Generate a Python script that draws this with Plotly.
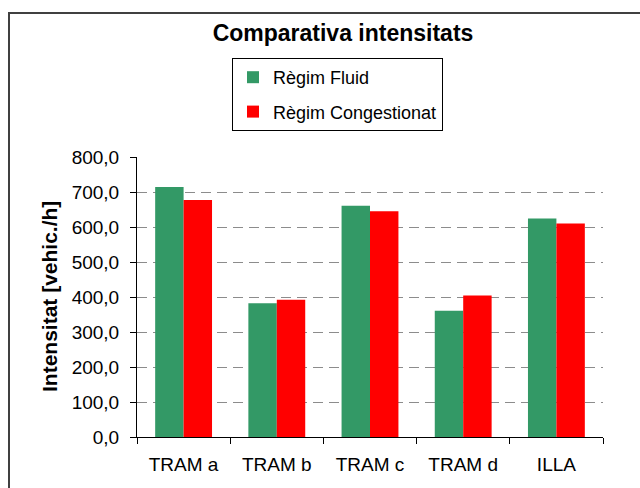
import plotly.graph_objects as go

# Traffic intensity per road section, fluid vs congested regime
trams = ["TRAM a", "TRAM b", "TRAM c", "TRAM d", "ILLA"]
regim_fluid = [714, 382, 661, 361, 624]
regim_congestionat = [677, 392, 645, 404, 610]
y_ticks = [0, 100, 200, 300, 400, 500, 600, 700, 800]

FONT = "Arial, Liberation Sans, sans-serif"
GREEN = "#339966"
RED = "#FF0000"

fig = go.Figure()
fig.add_trace(go.Bar(
    x=trams, y=regim_fluid, name="Règim Fluid",
    marker=dict(color=GREEN, line=dict(width=0)),
    legendgroup="fluid",
))
fig.add_trace(go.Bar(
    x=trams, y=regim_congestionat, name="Règim Congestionat",
    marker=dict(color=RED, line=dict(width=0)),
    legendgroup="cong",
))

# plot area in pixels: x 137..603, y 157..437
L, R, T, B = 137, 603, 157, 437
W, H = 640, 488


def px_x(x):
    return (x - L) / (R - L)


def px_y(y):
    return (B - y) / (B - T)


fig.update_layout(
    width=W, height=H,
    margin=dict(l=L, r=W - R, t=T, b=H - B, pad=0),
    paper_bgcolor="white",
    plot_bgcolor="white",
    separators=", ",
    font=dict(family=FONT, color="black", size=18),
    barmode="group",
    bargap=0.39,
    bargroupgap=0,
    title=dict(
        text="<b>Comparativa intensitats</b>",
        font=dict(family=FONT, size=23, color="black"),
        x=343 / W, xref="container", xanchor="center",
        y=1 - 33 / H, yref="container", yanchor="middle",
    ),
    legend=dict(
        x=px_x(232), xanchor="left",
        y=px_y(58), yanchor="top",
        bordercolor="black", borderwidth=1,
        bgcolor="white",
        font=dict(family=FONT, size=18, color="black"),
        traceorder="grouped",
        tracegroupgap=8,
        itemclick=False,
    ),
    xaxis=dict(
        range=[-0.5, 4.5],
        showline=True, linecolor="black", linewidth=1,
        ticks="outside", ticklen=6, tickcolor="black", tickwidth=1,
        tickson="boundaries",
        ticklabelstandoff=10,
        tickfont=dict(family=FONT, size=19, color="black"),
        showgrid=False,
        zeroline=False,
    ),
    yaxis=dict(
        range=[0, 800],
        tickvals=y_ticks,
        tickformat=".1f",
        showline=True, linecolor="black", linewidth=1,
        ticks="outside", ticklen=6, tickcolor="black", tickwidth=1,
        ticklabelstandoff=7,
        tickfont=dict(family=FONT, size=19, color="black"),
        showgrid=True, gridcolor="#8c8c8c", gridwidth=1, griddash="10px,6px",
        zeroline=False,
    ),
    yaxis2=dict(
        range=[0, 800],
        overlaying="y", side="left",
        tickvals=y_ticks,
        showticklabels=False,
        ticks="inside", ticklen=6, tickcolor="black", tickwidth=1,
        showgrid=False, showline=False, zeroline=False,
    ),
    annotations=[dict(
        text="<b>Intensitat [vehic./h]</b>",
        xref="paper", yref="paper",
        x=px_x(49), y=0.5,
        xanchor="center", yanchor="middle",
        textangle=-90, showarrow=False,
        font=dict(family=FONT, size=21, color="black"),
    )],
    shapes=[dict(
        type="rect", xref="paper", yref="paper",
        x0=px_x(9), x1=px_x(700),
        y0=px_y(560), y1=px_y(13),
        line=dict(color="#404040", width=2),
        fillcolor="rgba(0,0,0,0)",
        layer="below",
    )],
)

fig.write_html("out.html")
